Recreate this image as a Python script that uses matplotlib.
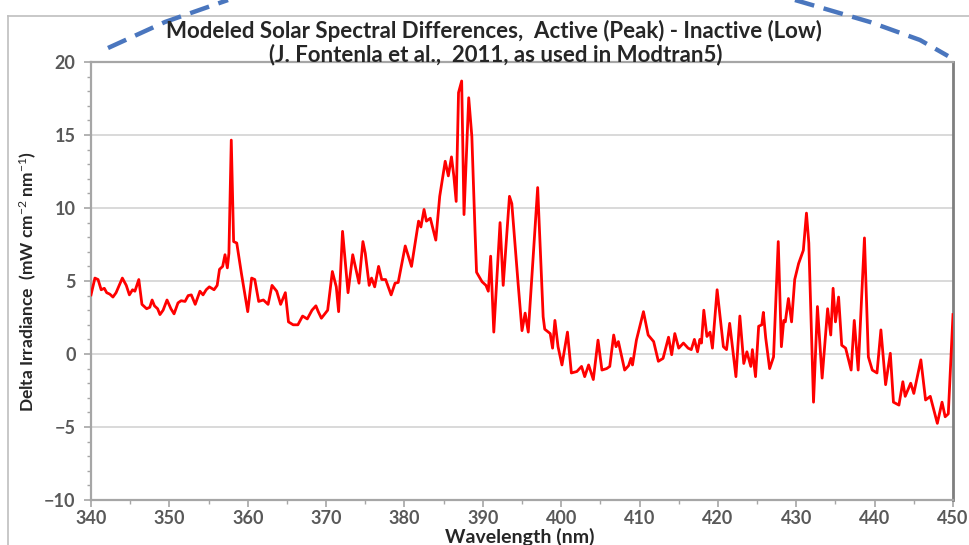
#!/usr/bin/env python3
"""Modeled solar spectral differences (active - inactive), Fontenla et al. 2011."""

from __future__ import annotations

import matplotlib

matplotlib.use("Agg")
import matplotlib.pyplot as plt
from matplotlib.lines import Line2D
from matplotlib.ticker import MultipleLocator

# Values (nm, mW cm^-2 nm^-1)
wavelength = [
    340.0, 340.5, 340.9, 341.3, 341.7, 342.0, 342.4, 342.8, 343.2, 344.0,
    344.5, 344.9, 345.3, 345.6, 346.1, 346.5, 347.1, 347.5, 347.8, 348.1,
    348.5, 348.8, 349.2, 349.7, 350.2, 350.6, 351.1, 351.5, 352.0, 352.4,
    352.8, 353.3, 353.9, 354.3, 354.7, 355.1, 355.7, 356.1, 356.4, 356.8,
    357.1, 357.4, 357.6, 357.9, 358.2, 358.6, 359.2, 360.0, 360.5, 360.9,
    361.4, 362.0, 362.6, 363.1, 363.7, 364.2, 364.8, 365.2, 365.8, 366.4,
    367.0, 367.6, 368.2, 368.7, 369.0, 369.4, 370.2, 370.8, 371.3, 371.6,
    372.1, 372.8, 373.4, 374.2, 374.7, 375.0, 375.5, 375.8, 376.2, 376.7,
    377.1, 377.6, 378.3, 378.8, 379.2, 380.1, 380.9, 381.8, 382.1, 382.5,
    382.8, 383.3, 384.0, 384.5, 385.2, 385.6, 386.0, 386.3, 386.6, 386.9,
    387.3, 387.6, 388.2, 388.6, 389.0, 389.2, 389.9, 390.4, 390.7, 391.0,
    391.4, 392.2, 392.6, 393.4, 393.7, 394.5, 395.0, 395.4, 395.8, 397.0,
    397.7, 397.9, 398.6, 398.9, 399.2, 399.6, 400.1, 400.8, 401.3, 402.0,
    402.6, 403.0, 403.5, 404.1, 404.7, 405.2, 405.8, 406.2, 406.7, 407.0,
    407.3, 408.1, 408.6, 408.9, 409.1, 409.6, 410.5, 411.1, 411.8, 412.4,
    413.0, 413.7, 414.1, 414.5, 415.0, 415.6, 416.2, 416.6, 417.0, 417.4,
    417.7, 417.9, 418.2, 418.6, 419.0, 419.3, 419.9, 420.7, 421.1, 421.5,
    422.3, 422.8, 423.3, 423.7, 424.2, 424.4, 424.8, 425.2, 425.6, 425.8,
    426.1, 426.6, 427.1, 427.7, 428.1, 428.4, 428.6, 429.0, 429.4, 429.8,
    430.3, 430.9, 431.3, 431.6, 432.2, 432.7, 433.3, 434.0, 434.4, 434.7,
    435.0, 435.4, 435.8, 436.3, 437.0, 437.4, 437.9, 438.7, 439.2, 439.7,
    440.3, 440.8, 441.4, 442.0, 442.4, 443.1, 443.6, 443.9, 444.6, 445.0,
    445.9, 446.5, 447.1, 448.0, 448.6, 449.0, 449.4, 450.0,
]
delta_irradiance = [
    4.05, 5.2, 5.1, 4.4, 4.5, 4.2, 4.1, 3.9, 4.2, 5.2,
    4.7, 4.05, 4.4, 4.3, 5.1, 3.4, 3.1, 3.2, 3.7, 3.3,
    3.1, 2.7, 3.0, 3.7, 3.1, 2.75, 3.5, 3.65, 3.6, 4.0,
    4.05, 3.4, 4.3, 4.05, 4.4, 4.6, 4.4, 4.7, 5.8, 6.0,
    6.8, 5.9, 6.9, 14.65, 7.7, 7.6, 5.5, 2.9, 5.2, 5.1,
    3.6, 3.7, 3.4, 4.7, 4.3, 3.4, 4.2, 2.2, 2.0, 2.0,
    2.6, 2.4, 3.0, 3.3, 2.9, 2.45, 3.0, 5.65, 4.6, 2.9,
    8.4, 4.2, 6.8, 4.85, 7.7, 6.9, 4.7, 5.2, 4.6, 6.0,
    5.1, 5.1, 4.05, 4.85, 4.9, 7.4, 6.0, 9.1, 8.7, 9.9,
    9.1, 9.3, 7.8, 10.8, 13.2, 12.2, 13.5, 12.2, 10.45, 17.9,
    18.7, 9.55, 17.55, 14.9, 8.5, 5.6, 4.95, 4.7, 4.3, 6.7,
    1.5, 9.0, 4.7, 10.8, 10.3, 4.85, 1.6, 2.8, 1.5, 11.4,
    2.55, 1.7, 1.4, 0.4, 2.3, 0.5, -0.75, 1.5, -1.3, -1.2,
    -0.85, -1.55, -0.75, -1.75, 0.95, -1.1, -1.0, -0.85, 1.3, 0.5,
    0.85, -1.1, -0.8, -0.3, -0.75, 0.95, 2.9, 1.3, 0.85, -0.5,
    -0.3, 1.15, -0.05, 1.4, 0.4, 0.75, 0.4, 0.3, 1.0, 0.15,
    1.0, 0.75, 3.0, 1.2, 1.5, 0.4, 4.4, 0.5, 0.3, 2.1,
    -1.55, 2.6, -0.65, 0.15, -0.85, 0.3, -1.55, 1.9, 2.0, 2.85,
    1.1, -1.0, -0.2, 7.7, 0.5, 2.3, 2.2, 3.8, 2.2, 5.1,
    6.2, 7.1, 9.65, 7.6, -3.3, 3.25, -1.65, 3.1, 1.3, 4.5,
    2.2, 3.9, 0.6, 0.4, -1.1, 2.3, -1.1, 7.95, -0.2, -1.1,
    -1.3, 1.65, -2.1, 0.05, -3.3, -3.5, -1.9, -2.9, -2.0, -2.7,
    -0.4, -3.15, -2.9, -4.75, -3.3, -4.3, -4.1, 2.7,
]

TITLE_LINE_1 = "Modeled Solar Spectral Differences,  Active (Peak) - Inactive (Low)"
TITLE_LINE_2 = "(J. Fontenla et al.,  2011, as used in Modtran5)"
X_LABEL = "Wavelength (nm)"
Y_LABEL = r"Delta Irradiance  (mW cm$^{-2}$ nm$^{-1}$)"

LINE_RED = "#FF0000"
GRID_GREY = "#D9D9D9"
AXIS_GREY = "#A6A6A6"
TEXT_GREY = "#595959"
TEXT_DARK = "#262626"
DASH_BLUE = "#4A76BE"


def main() -> None:
    plt.rcParams.update(
        {
            "font.family": ["Lato", "DejaVu Sans"],
            "mathtext.fontset": "custom",
            "mathtext.rm": "Lato",
            "mathtext.it": "Lato:italic",
            "mathtext.bf": "Lato:bold",
        }
    )
    W, H = 969, 545
    fig = plt.figure(figsize=(W / 100, H / 100), dpi=100)
    ax = fig.add_axes([91 / W, 1 - 500 / H, (953 - 91) / W, (500 - 62) / H])

    ax.plot(wavelength, delta_irradiance, color=LINE_RED, linewidth=2.0,
            solid_joinstyle="round", zorder=3)

    ax.set_xlim(340, 450)
    ax.set_ylim(-10, 20)
    ax.xaxis.set_major_locator(MultipleLocator(10))
    ax.xaxis.set_minor_locator(MultipleLocator(5))
    ax.yaxis.set_major_locator(MultipleLocator(5))
    ax.yaxis.set_minor_locator(MultipleLocator(1))
    ax.grid(True, which="major", axis="y", color=GRID_GREY, linewidth=1.4)
    ax.set_axisbelow(True)

    for side in ("left", "bottom", "top"):
        ax.spines[side].set_color(AXIS_GREY)
        ax.spines[side].set_linewidth(1.6)
    ax.spines["right"].set_color("#7F7F7F")
    ax.spines["right"].set_linewidth(2.0)

    ax.tick_params(axis="both", which="major", length=5, width=1.2,
                   color=AXIS_GREY, labelcolor=TEXT_GREY, labelsize=13)
    ax.tick_params(axis="both", which="minor", length=3, width=1.0,
                   color=AXIS_GREY)
    ax.tick_params(axis="y", which="major", pad=6)
    ax.tick_params(axis="x", which="major", pad=2)
    for lab in ax.get_xticklabels() + ax.get_yticklabels():
        lab.set_fontweight("bold")

    ax.set_xlabel(X_LABEL, fontsize=14, fontweight="bold", color=TEXT_DARK)
    ax.xaxis.set_label_coords((520 - 91) / 862, -28 / 438)
    ax.set_ylabel(Y_LABEL, fontsize=12.5, fontweight="bold", color=TEXT_DARK)
    ax.yaxis.set_label_coords((38 - 91) / 862, 0.5)

    fig.text(494 / W, 1 - 31 / H, TITLE_LINE_1, ha="center", va="center",
             fontsize=16, fontweight="bold", color=TEXT_DARK)
    fig.text(496 / W, 1 - 55 / H, TITLE_LINE_2, ha="center", va="center",
             fontsize=16, fontweight="bold", color=TEXT_DARK)

    # slide frame and decorative dashed arcs from the source slide
    fig.add_artist(Line2D([8 / W, 8 / W], [0, 1 - 16 / H], transform=fig.transFigure,
                          color="#BFBFBF", linewidth=1.2))
    fig.add_artist(Line2D([8 / W, 1], [1 - 16 / H, 1 - 16 / H], transform=fig.transFigure,
                          color="#BFBFBF", linewidth=1.2))
    left_arc_x = [108, 165, 228]
    left_arc_y = [48, 22, 0]
    right_arc_x = [795, 870, 920, 948]
    right_arc_y = [0, 22, 40, 56]
    for xs, ys in ((left_arc_x, left_arc_y), (right_arc_x, right_arc_y)):
        fig.add_artist(Line2D([x / W for x in xs], [1 - y / H for y in ys],
                              transform=fig.transFigure, color=DASH_BLUE,
                              linewidth=3.2, linestyle=(0, (4.5, 2.2))))

    fig.savefig("out.png", dpi=100)
    plt.close(fig)


if __name__ == "__main__":
    main()
